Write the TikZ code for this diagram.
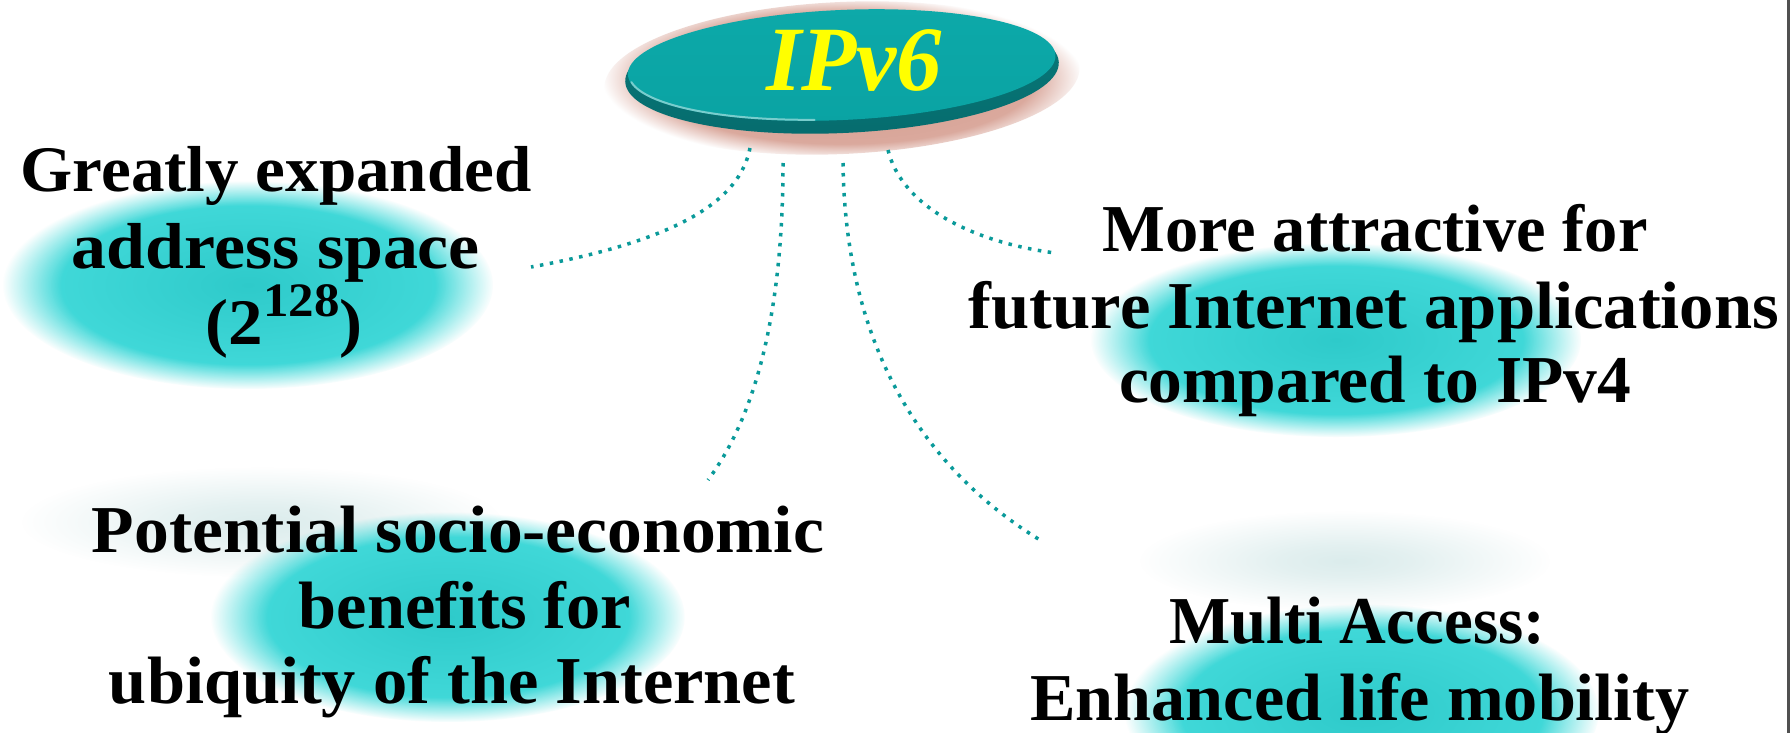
\documentclass[tikz,border=0pt]{standalone}
\usepackage{fontspec}
\setmainfont{Liberation Serif}
\usepackage{graphicx}
\usetikzlibrary{fadings,calc,shapes.geometric}

\definecolor{blobcyan}{HTML}{2ECACA}
\definecolor{blobedgecol}{HTML}{45DCDC}
\definecolor{hazeteal}{HTML}{C8E2E2}
\definecolor{linkteal}{HTML}{0A9A9A}
\definecolor{discface}{HTML}{0AA3A3}
\definecolor{disctop}{HTML}{0DA9A9}
\definecolor{discrim}{HTML}{066C6E}
\definecolor{discglow}{HTML}{D49A8C}
\definecolor{hubyellow}{HTML}{FFFF00}
\definecolor{edgegray}{HTML}{505050}

% soft-edged blobs
\pgfdeclareradialshading{blobedgeshade}{\pgfpointorigin}{color(0bp)=(pgftransparent!0); color(19bp)=(pgftransparent!0); color(25bp)=(pgftransparent!100); color(50bp)=(pgftransparent!100)}
\pgfdeclarefading{blobedge}{\pgfuseshading{blobedgeshade}}
\pgfdeclareradialshading{hazeedgeshade}{\pgfpointorigin}{color(0bp)=(pgftransparent!35); color(8bp)=(pgftransparent!50); color(25bp)=(pgftransparent!100); color(50bp)=(pgftransparent!100)}
\pgfdeclarefading{hazeedge}{\pgfuseshading{hazeedgeshade}}
\pgfdeclareradialshading{glowedgeshade}{\pgfpointorigin}{color(0bp)=(pgftransparent!0); color(20bp)=(pgftransparent!15); color(25bp)=(pgftransparent!100); color(50bp)=(pgftransparent!100)}
\pgfdeclarefading{glowedge}{\pgfuseshading{glowedgeshade}}

% one text line stretched horizontally to a given width
\newcommand{\fitline}[2]{\resizebox{#1}{\height}{#2}}

\tikzset{
  linetext/.style={anchor=base, inner sep=0pt, font=\fontsize{67}{74}\selectfont\bfseries},
  bigtext/.style={anchor=base, inner sep=0pt, font=\fontsize{65}{72}\selectfont\bfseries},
  link/.style={linkteal, line width=3.5pt, dash pattern=on 3.5pt off 6.5pt},
  blob/.style={inner color=blobcyan, outer color=blobedgecol, path fading=blobedge},
  haze/.style={fill=hazeteal, path fading=hazeedge},
}

\begin{document}
\begin{tikzpicture}[x=1pt, y=-1pt]
\useasboundingbox (0,0) rectangle (1791,733);
\fill[white] (0,0) rectangle (1791,733);

% shadows and blobs behind the text blocks
\fill[haze] (262,522) ellipse [x radius=240pt, y radius=55pt];
\fill[haze] (1345,561) ellipse [x radius=205pt, y radius=50pt];
\shade[blob] (248,285) ellipse [x radius=245pt, y radius=104pt];
\shade[blob] (1336,340) ellipse [x radius=245pt, y radius=97pt];
\shade[blob] (448,617) ellipse [x radius=237pt, y radius=105pt];
\shade[blob] (1362,712) ellipse [x radius=237pt, y radius=108pt];

% the IPv6 disc
\begin{scope}[rotate around={2.6:(842,72)}]
  \fill[discglow, path fading=glowedge] (842,78) ellipse [x radius=238pt, y radius=76pt];
  \shade[top color=discface!75!black, bottom color=discrim] (842,72) ellipse [x radius=217pt, y radius=61pt];
  \shade[top color=disctop, bottom color=discface] (842,65) ellipse [x radius=214pt, y radius=55pt];
  \draw[white!45!discface, line width=2pt, line cap=round]
    plot[domain=98:172, samples=40] ({842+213*cos(\x)},{65+54*sin(\x)});
\end{scope}
\node[anchor=base, inner sep=0pt, text=hubyellow,
      font=\fontsize{92}{92}\selectfont\bfseries\itshape] (hub) at (854,91) {\fitline{176pt}{IPv6}};

% connector ends
\coordinate (k1a) at (750,148);  \coordinate (k1b) at (531,267);
\coordinate (k2a) at (783,163);  \coordinate (k2b) at (708,480);
\coordinate (k3a) at (843,163);  \coordinate (k3b) at (1040,540);
\coordinate (k4a) at (888,150);  \coordinate (k4b) at (1055,253);

\draw[link] (k1a) .. controls (740,200) and (680,240) .. (k1b);
\draw[link] (k2a) .. controls (783,300) and (760,410) .. (k2b);
\draw[link] (k3a) .. controls (845,330) and (910,460) .. (k3b);
\draw[link] (k4a) .. controls (900,200) and (960,240) .. (k4b);

% upper left block
\node[bigtext] (ga) at (276,191) {\fitline{511pt}{Greatly expanded}};
\node[bigtext] (gb) at (276,268) {\fitline{408pt}{address space}};
\node[bigtext] (gc) at (284,344) {\fitline{157pt}{(2\raisebox{0.42em}{\fontsize{48}{48}\selectfont 128})}};

% upper right block
\node[linetext] (ma) at (1375,251) {\fitline{545pt}{More attractive for}};
\node[linetext] (mb) at (1374,328) {\fitline{810pt}{future Internet applications}};
\node[linetext] (mc) at (1375,402) {\fitline{512pt}{compared to IPv4}};

% lower left block
\node[linetext] (pa) at (458,552) {\fitline{732pt}{Potential socio-economic}};
\node[linetext] (pb) at (465,628) {\fitline{332pt}{benefits for}};
\node[linetext] (pc) at (452,703) {\fitline{686pt}{ubiquity of the Internet}};

% lower right block
\node[linetext] (ea) at (1357,643) {\fitline{376pt}{Multi Access:}};
\node[linetext] (eb) at (1360,720) {\fitline{659pt}{Enhanced life mobility}};

% frame line on the right
\draw[edgegray, line width=2.5pt] (1788.7,0) -- (1788.7,733);
\end{tikzpicture}
\end{document}
